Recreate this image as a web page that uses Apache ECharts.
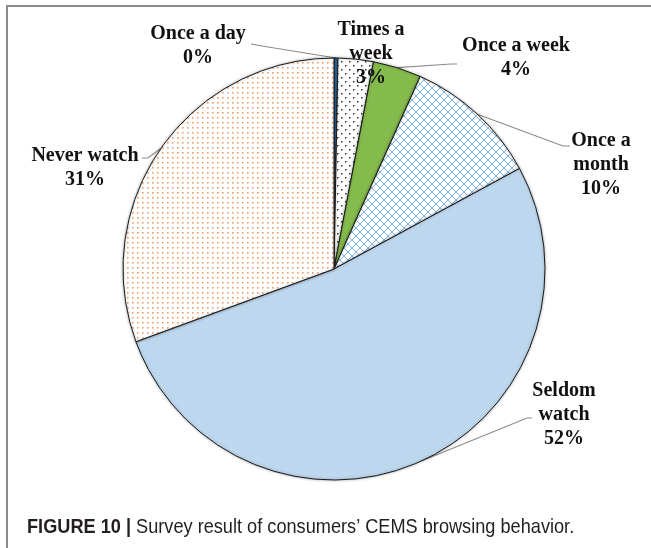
<!DOCTYPE html>
<html>
<head>
<meta charset="utf-8">
<script src="https://cdn.jsdelivr.net/npm/echarts@6/dist/echarts.min.js"></script>
<style>
  html, body { margin: 0; padding: 0; background: #fff; }
  #chart { width: 651px; height: 548px; }
</style>
</head>
<body>
<div id="chart"></div>
<script>
// ---- data ----
var categories = ['Once a day', 'Times a week', 'Once a week', 'Once a month', 'Seldom watch', 'Never watch'];
var labelNames = ['Once a day', 'Times a\nweek', 'Once a week', 'Once a\nmonth', 'Seldom\nwatch', 'Never watch'];
var values = [0.3, 2.7, 3.7, 10.4, 52.3, 30.6];
var captionBold = 'FIGURE 10 |';
var captionText = ' Survey result of consumers\u2019 CEMS browsing behavior.';

// ---- patterns ----
function tile(size, draw) {
  var c = document.createElement('canvas');
  c.width = size; c.height = size;
  var ctx = c.getContext('2d');
  ctx.fillStyle = '#ffffff';
  ctx.fillRect(0, 0, size, size);
  draw(ctx, size);
  return { image: c, repeat: 'repeat' };
}
var orangeDots = tile(5, function (ctx) {
  ctx.fillStyle = 'rgba(237,125,49,0.75)';
  ctx.fillRect(2, 2, 1.6, 1.6);
});
var blackDots = tile(8, function (ctx) {
  ctx.fillStyle = '#333';
  ctx.fillRect(1, 1, 1.5, 1.5);
  ctx.fillRect(5, 5, 1.5, 1.5);
});
var crossHatch = tile(8, function (ctx, s) {
  ctx.strokeStyle = 'rgba(91,155,213,0.75)';
  ctx.lineWidth = 1;
  ctx.beginPath();
  ctx.moveTo(0, 0); ctx.lineTo(s, s);
  ctx.moveTo(s, 0); ctx.lineTo(0, s);
  ctx.stroke();
});
var fills = ['#2E75B6', blackDots, '#84BB4C', crossHatch, '#BDD7EE', orangeDots];

// label placement (text block centres) and leader line ends
var labelPos = [
  { x: 198, y: 46, line: [[262, 46], [251, 44]] },
  { x: 371, y: 54, line: null },
  { x: 516, y: 58, line: [[451, 64], [457, 64]] },
  { x: 601, y: 165, line: [[563, 146], [570, 146]] },
  { x: 564, y: 415, line: [[527, 418], [532, 418]] },
  { x: 85, y: 168, line: [[148, 158], [142, 158]] }
];

var chart = echarts.init(document.getElementById('chart'));
var data = categories.map(function (c, i) {
  return {
    name: c,
    value: values[i],
    itemStyle: { color: fills[i] },
    labelLine: { show: labelPos[i].line !== null }
  };
});

chart.setOption({
  animation: false,
  backgroundColor: '#fff',
  graphic: [
    { type: 'line', shape: { x1: 7, y1: 6, x2: 651, y2: 6 }, style: { stroke: '#8c8c8c', lineWidth: 2 } },
    { type: 'line', shape: { x1: 7, y1: 5, x2: 7, y2: 548 }, style: { stroke: '#8c8c8c', lineWidth: 2 } },
    {
      type: 'text', x: 27, y: 527, scaleX: 0.865, scaleY: 1,
      style: {
        text: '{b|' + captionBold + '}{r|' + captionText + '}',
        verticalAlign: 'middle',
        align: 'left',
        rich: {
          b: { fontFamily: 'Liberation Sans, Arial', fontWeight: 'bold', fontSize: 21, fill: '#231f20' },
          r: { fontFamily: 'Liberation Sans, Arial', fontSize: 21, fill: '#231f20' }
        }
      }
    }
  ],
  series: [{
    type: 'pie',
    center: [334, 269],
    radius: [0, 211],
    startAngle: 90,
    clockwise: true,
    avoidLabelOverlap: false,
    itemStyle: {
      borderColor: '#1a1a1a',
      borderWidth: 1,
      shadowBlur: 3,
      shadowColor: 'rgba(0,0,0,0.3)'
    },
    label: {
      show: true,
      position: 'outside',
      fontFamily: 'Liberation Serif, Times New Roman, serif',
      fontWeight: 'bold',
      fontSize: 20,
      lineHeight: 24,
      color: '#111',
      align: 'center',
      formatter: function (p) {
        return labelNames[p.dataIndex] + '\n' + Math.round(p.value) + '%';
      }
    },
    labelLine: {
      show: true,
      length: 10,
      length2: 10,
      lineStyle: { color: '#8c8c8c', width: 1.2 }
    },
    labelLayout: function (p) {
      var pos = labelPos[p.dataIndex];
      var res = { x: pos.x, y: pos.y, align: 'center', verticalAlign: 'middle' };
      if (pos.line && p.labelLinePoints) {
        res.labelLinePoints = [p.labelLinePoints[0], pos.line[0], pos.line[1]];
      }
      return res;
    },
    emphasis: { disabled: true },
    data: data
  }]
});
</script>
</body>
</html>
